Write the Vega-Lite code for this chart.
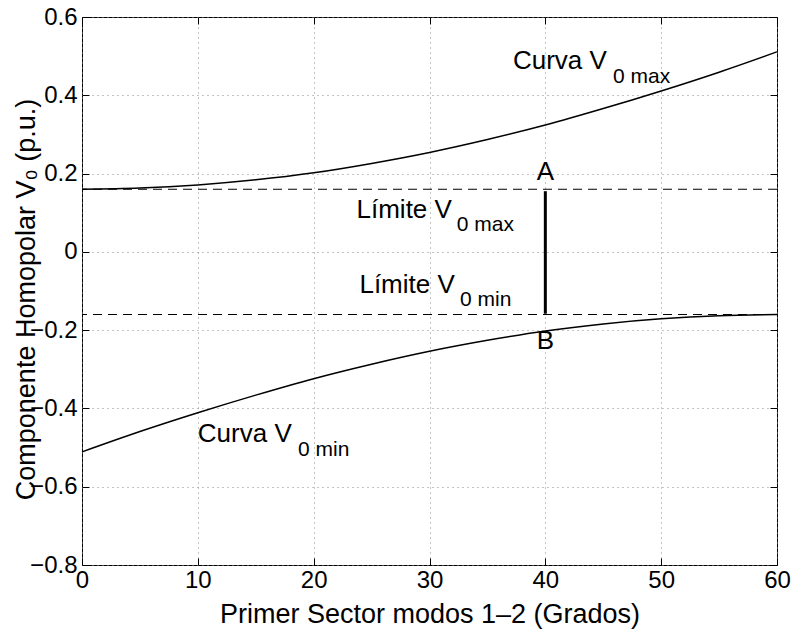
{
  "$schema": "https://vega.github.io/schema/vega-lite/v6.json",
  "width": 695,
  "height": 548,
  "autosize": "none",
  "padding": {"left": 82, "top": 17, "right": 16, "bottom": 65},
  "background": "white",
  "datasets": {
    "curvas": [
      {"theta": 0, "v": 0.160, "serie": "max"},
      {"theta": 5, "v": 0.163, "serie": "max"},
      {"theta": 10, "v": 0.171, "serie": "max"},
      {"theta": 15, "v": 0.184, "serie": "max"},
      {"theta": 20, "v": 0.202, "serie": "max"},
      {"theta": 25, "v": 0.226, "serie": "max"},
      {"theta": 30, "v": 0.254, "serie": "max"},
      {"theta": 35, "v": 0.287, "serie": "max"},
      {"theta": 40, "v": 0.324, "serie": "max"},
      {"theta": 45, "v": 0.366, "serie": "max"},
      {"theta": 50, "v": 0.411, "serie": "max"},
      {"theta": 55, "v": 0.459, "serie": "max"},
      {"theta": 60, "v": 0.511, "serie": "max"},
      {"theta": 0, "v": -0.511, "serie": "min"},
      {"theta": 5, "v": -0.459, "serie": "min"},
      {"theta": 10, "v": -0.411, "serie": "min"},
      {"theta": 15, "v": -0.366, "serie": "min"},
      {"theta": 20, "v": -0.324, "serie": "min"},
      {"theta": 25, "v": -0.287, "serie": "min"},
      {"theta": 30, "v": -0.254, "serie": "min"},
      {"theta": 35, "v": -0.226, "serie": "min"},
      {"theta": 40, "v": -0.202, "serie": "min"},
      {"theta": 45, "v": -0.184, "serie": "min"},
      {"theta": 50, "v": -0.171, "serie": "min"},
      {"theta": 55, "v": -0.163, "serie": "min"},
      {"theta": 60, "v": -0.160, "serie": "min"}
    ],
    "limites": [
      {"v": 0.16, "nombre": "Límite max"},
      {"v": -0.16, "nombre": "Límite min"}
    ],
    "segmento": [
      {"theta": 40, "desde": 0.155, "hasta": -0.158}
    ],
    "etiquetas": [
      {"theta": 37.2, "v": 0.467, "texto": "Curva V"},
      {"theta": 23.7, "v": 0.087, "texto": "Límite V"},
      {"theta": 23.95, "v": -0.106, "texto": "Límite V"},
      {"theta": 10.0, "v": -0.485, "texto": "Curva V"}
    ],
    "subindices": [
      {"theta": 45.85, "v": 0.431, "texto": "0 max"},
      {"theta": 32.36, "v": 0.053, "texto": "0 max"},
      {"theta": 32.64, "v": -0.138, "texto": "0 min"},
      {"theta": 18.65, "v": -0.522, "texto": "0 min"}
    ],
    "puntos": [
      {"theta": 40, "v": 0.184, "texto": "A"},
      {"theta": 40, "v": -0.249, "texto": "B"}
    ]
  },
  "layer": [
    {
      "data": {"name": "curvas"},
      "mark": {"type": "line", "color": "black", "strokeWidth": 1.5, "interpolate": "monotone"},
      "encoding": {
        "x": {
          "field": "theta", "type": "quantitative",
          "scale": {"domain": [0, 60], "nice": false, "zero": false},
          "axis": {
            "orient": "bottom",
            "title": "Primer Sector modos 1–2 (Grados)",
            "values": [0, 10, 20, 30, 40, 50, 60],
            "grid": true,
            "labelPadding": 10,
            "titleY": 57,
            "titleBaseline": "alphabetic"
          }
        },
        "y": {
          "field": "v", "type": "quantitative",
          "scale": {"domain": [-0.8, 0.6], "nice": false, "zero": false},
          "axis": {
            "orient": "left",
            "title": "Componente Homopolar V₀ (p.u.)",
            "values": [-0.8, -0.6, -0.4, -0.2, 0, 0.2, 0.4, 0.6],
            "labelExpr": "datum.value === 0 ? '0' : format(datum.value, '.1f')",
            "grid": true,
            "titleAngle": -90,
            "titleX": -48,
            "titleY": 282,
            "titleAlign": "center",
            "titleBaseline": "alphabetic"
          }
        },
        "detail": {"field": "serie"}
      }
    },
    {
      "data": {"name": "limites"},
      "mark": {"type": "rule", "color": "black", "strokeWidth": 1.2, "strokeDash": [9, 6]},
      "encoding": {
        "y": {"field": "v", "type": "quantitative", "axis": null}
      }
    },
    {
      "data": {"name": "segmento"},
      "mark": {"type": "rule", "color": "black", "strokeWidth": 3},
      "encoding": {
        "x": {
          "field": "theta", "type": "quantitative",
          "axis": {
            "orient": "top", "title": null, "labels": false, "grid": false,
            "values": [0, 10, 20, 30, 40, 50, 60]
          }
        },
        "y": {
          "field": "desde", "type": "quantitative",
          "axis": {
            "orient": "right", "title": null, "labels": false, "grid": false,
            "values": [-0.8, -0.6, -0.4, -0.2, 0, 0.2, 0.4, 0.6]
          }
        },
        "y2": {"field": "hasta"}
      }
    },
    {
      "data": {"name": "etiquetas"},
      "mark": {"type": "text", "align": "left", "baseline": "alphabetic", "fontSize": 26, "font": "Liberation Sans", "color": "black"},
      "encoding": {
        "x": {"field": "theta", "type": "quantitative", "axis": null},
        "y": {"field": "v", "type": "quantitative", "axis": null},
        "text": {"field": "texto"}
      }
    },
    {
      "data": {"name": "subindices"},
      "mark": {"type": "text", "align": "left", "baseline": "alphabetic", "fontSize": 21, "font": "Liberation Sans", "color": "black"},
      "encoding": {
        "x": {"field": "theta", "type": "quantitative", "axis": null},
        "y": {"field": "v", "type": "quantitative", "axis": null},
        "text": {"field": "texto"}
      }
    },
    {
      "data": {"name": "puntos"},
      "mark": {"type": "text", "align": "center", "baseline": "alphabetic", "fontSize": 26, "font": "Liberation Sans", "color": "black"},
      "encoding": {
        "x": {"field": "theta", "type": "quantitative", "axis": null},
        "y": {"field": "v", "type": "quantitative", "axis": null},
        "text": {"field": "texto"}
      }
    }
  ],
  "resolve": {"axis": {"x": "independent", "y": "independent"}},
  "config": {
    "view": {"stroke": "black", "strokeWidth": 1},
    "font": "Liberation Sans",
    "axis": {
      "domain": false,
      "tickSize": -7,
      "tickColor": "black",
      "tickWidth": 1,
      "labelFont": "Liberation Sans",
      "labelFontSize": 24,
      "labelColor": "black",
      "labelPadding": 12,
      "titleFont": "Liberation Sans",
      "titleFontSize": 27,
      "titleFontWeight": "normal",
      "titleColor": "black",
      "gridColor": "#888888",
      "gridDash": [1, 4],
      "gridWidth": 1,
      "gridOpacity": 1
    },
    "axisX": {"labelFlush": false},
    "axisY": {"labelFlush": false}
  }
}
